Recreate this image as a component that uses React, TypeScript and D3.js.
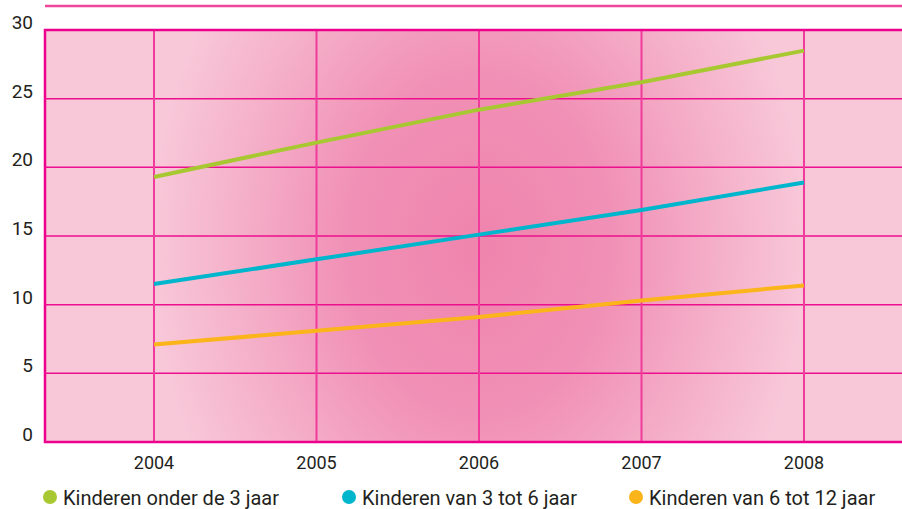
import React from "react";
import * as d3 from "d3";

const years = [2004, 2005, 2006, 2007, 2008];
const yTicks = [0, 5, 10, 15, 20, 25, 30];
const onder3 = [19.3, 21.8, 24.2, 26.2, 28.5];
const van3tot6 = [11.5, 13.3, 15.1, 16.9, 18.9];
const van6tot12 = [7.1, 8.1, 9.1, 10.3, 11.4];
const seriesNames = ["Kinderen onder de 3 jaar", "Kinderen van 3 tot 6 jaar", "Kinderen van 6 tot 12 jaar"];
const seriesColors = ["#a8c832", "#00b6cc", "#fbb41a"];

const W = 902, H = 509;
const left = 45, right = 902, top = 30, bottom = 442;

export default function App() {
  const x = d3.scaleLinear().domain([2004, 2008]).range([154, 804]);
  const y = d3.scaleLinear().domain([0, 30]).range([bottom, top]);
  const series = [onder3, van3tot6, van6tot12];
  const line = d3.line<number>().x((_, i) => x(years[i])).y((d) => y(d));
  const font = "Roboto, 'Noto Sans', sans-serif";
  const legendX = [50, 349, 636];
  return (
    <svg width={W} height={H} style={{ position: "absolute", left: 0, top: 0 }}>
      <defs>
        <radialGradient id="bg" gradientUnits="userSpaceOnUse" cx={479} cy={245} r={330}
          gradientTransform="translate(479 245) scale(1 1.3) translate(-479 -245)">
          <stop offset="0" stopColor="#ef84ad" />
          <stop offset="0.4" stopColor="#f190b6" />
          <stop offset="0.75" stopColor="#f5b2ca" />
          <stop offset="1" stopColor="#f8c8d9" />
        </radialGradient>
      </defs>
      <rect x={0} y={0} width={W} height={H} fill="#ffffff" />
      <line x1={left} x2={right} y1={6} y2={6} stroke="#f0469a" strokeWidth={2.5} />
      <rect x={left} y={top} width={right - left} height={bottom - top} fill="url(#bg)" />
      {yTicks.filter((t) => t > 0 && t < 30).map((t) => (
        <line key={t} x1={left} x2={right} y1={y(t)} y2={y(t)} stroke="#ec0f8e" strokeWidth={1.5} />
      ))}
      {years.map((yr) => (
        <line key={yr} x1={x(yr)} x2={x(yr)} y1={top} y2={bottom} stroke="#f03a9c" strokeWidth={2} />
      ))}
      <rect x={left} y={top} width={right - left + 5} height={bottom - top} fill="none" stroke="#ec008c" strokeWidth={2.5} />
      {series.map((s, i) => (
        <path key={i} d={line(s) || ""} fill="none" stroke={seriesColors[i]} strokeWidth={4} />
      ))}
      {yTicks.map((t) => (
        <text key={t} x={33} y={y(t) - 6} textAnchor="end" dominantBaseline="middle" fontFamily={font} fontSize={19} fill="#231f20">{t}</text>
      ))}
      {years.map((yr) => (
        <text key={yr} x={x(yr)} y={464} textAnchor="middle" dominantBaseline="middle" fontFamily={font} fontSize={18} fill="#231f20">{yr}</text>
      ))}
      {seriesNames.map((n, i) => (
        <g key={n}>
          <circle cx={legendX[i]} cy={497} r={7} fill={seriesColors[i]} />
          <text x={legendX[i] + 13} y={505} fontFamily={font} fontSize={20} fill="#231f20">{n}</text>
        </g>
      ))}
    </svg>
  );
}
